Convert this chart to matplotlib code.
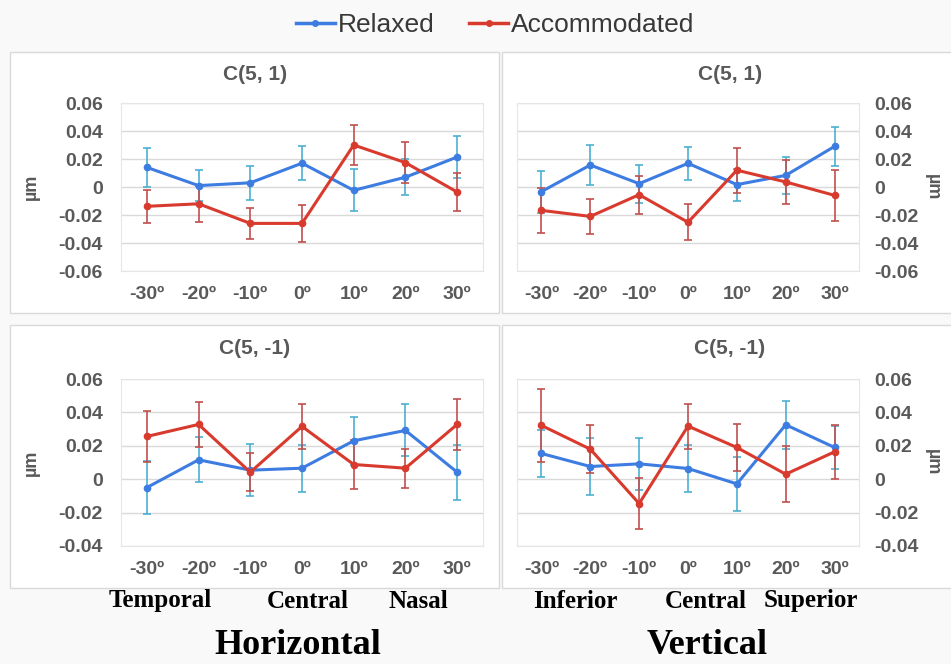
import numpy as np
import matplotlib.pyplot as plt
from matplotlib.patches import Rectangle
from matplotlib.lines import Line2D

plt.rcParams['font.family'] = ['Liberation Sans', 'DejaVu Sans']

# angle categories
angles = ['-30º', '-20º', '-10º', '0º', '10º', '20º', '30º']

# C(5, 1) horizontal
h1_relaxed = [0.014, 0.001, 0.003, 0.017, -0.0024, 0.007, 0.0214]
h1_relaxed_err = [0.014, 0.011, 0.012, 0.012, 0.015, 0.013, 0.015]
h1_accom = [-0.0138, -0.012, -0.026, -0.026, 0.030, 0.0174, -0.0036]
h1_accom_err = [0.012, 0.013, 0.011, 0.013, 0.0145, 0.0147, 0.0134]

# C(5, 1) vertical
v1_relaxed = [-0.0033, 0.0157, 0.0024, 0.0169, 0.0017, 0.0083, 0.029]
v1_relaxed_err = [0.015, 0.0145, 0.0135, 0.012, 0.0115, 0.013, 0.014]
v1_accom = [-0.0167, -0.021, -0.0055, -0.0252, 0.012, 0.0036, -0.006]
v1_accom_err = [0.016, 0.0125, 0.0135, 0.013, 0.016, 0.0155, 0.018]

# C(5, -1) horizontal
h2_relaxed = [-0.005, 0.0116, 0.0054, 0.0066, 0.023, 0.0292, 0.0042]
h2_relaxed_err = [0.016, 0.0134, 0.0154, 0.014, 0.0142, 0.0156, 0.0164]
h2_accom = [0.0256, 0.0328, 0.0042, 0.0316, 0.0088, 0.0066, 0.0328]
h2_accom_err = [0.0155, 0.0135, 0.0114, 0.0135, 0.0145, 0.0117, 0.0152]

# C(5, -1) vertical
v2_relaxed = [0.0154, 0.0076, 0.0092, 0.0064, -0.0028, 0.0326, 0.019]
v2_relaxed_err = [0.014, 0.017, 0.0155, 0.014, 0.016, 0.0144, 0.013]
v2_accom = [0.0322, 0.018, -0.0146, 0.0318, 0.019, 0.003, 0.0164]
v2_accom_err = [0.0218, 0.0142, 0.0155, 0.0135, 0.0142, 0.0168, 0.016]

blue = '#3d7ce0'
blue_err = '#4bb0d2'
red = '#d93a2e'
red_err = '#c0504d'
gray = '#595959'

W, H = 951, 664
fig = plt.figure(figsize=(W / 100, H / 100), dpi=100)
fig.patch.set_facecolor('#f9f9f9')


def px_rect(x0, y0, x1, y1):
    return [x0 / W, 1 - y1 / H, (x1 - x0) / W, (y1 - y0) / H]


# white panel boxes
for (x0, y0, x1, y1) in [(10, 52, 499, 313), (502, 52, 955, 313),
                         (10, 325, 499, 588), (502, 325, 955, 588)]:
    fig.patches.append(Rectangle((x0 / W, 1 - y1 / H), (x1 - x0) / W, (y1 - y0) / H,
                                 transform=fig.transFigure, facecolor='white',
                                 edgecolor='#d9d9d9', linewidth=1, zorder=-5))

panels = [
    (px_rect(121, 103, 483, 271), 'C(5, 1)', h1_relaxed, h1_relaxed_err, h1_accom, h1_accom_err,
     (-0.06, 0.06), 'left', 255, 75),
    (px_rect(517, 103, 859, 271), 'C(5, 1)', v1_relaxed, v1_relaxed_err, v1_accom, v1_accom_err,
     (-0.06, 0.06), 'right', 730, 75),
    (px_rect(121, 379, 483, 546), 'C(5, -1)', h2_relaxed, h2_relaxed_err, h2_accom, h2_accom_err,
     (-0.04, 0.06), 'left', 255, 348),
    (px_rect(517, 379, 859, 546), 'C(5, -1)', v2_relaxed, v2_relaxed_err, v2_accom, v2_accom_err,
     (-0.04, 0.06), 'right', 730, 348),
]

x = np.arange(len(angles))
for rect, title, rel, rel_e, acc, acc_e, ylim, side, tx, ty in panels:
    ax = fig.add_axes(rect)
    ax.set_facecolor('white')
    ax.errorbar(x, rel, yerr=rel_e, fmt='none', ecolor=blue_err, elinewidth=1.2,
                capsize=3, capthick=1.2, zorder=2)
    ax.errorbar(x, acc, yerr=acc_e, fmt='none', ecolor=red_err, elinewidth=1.2,
                capsize=3, capthick=1.2, zorder=2)
    ax.plot(x, rel, color=blue, lw=2.2, marker='o', ms=4.5, zorder=3)
    ax.plot(x, acc, color=red, lw=2.2, marker='o', ms=4.5, zorder=3)
    ax.set_xlim(-0.5, len(angles) - 0.5)
    ax.set_ylim(*ylim)
    if side == 'right':
        ax.yaxis.tick_right()
        ax.yaxis.set_label_position('right')
    ticks = np.round(np.arange(ylim[0], ylim[1] + 0.001, 0.02), 2)
    ax.set_yticks(ticks)
    ax.set_yticklabels(['0' if t == 0 else f'{t:.2f}' for t in ticks], fontweight='bold')
    ax.set_xticks(x)
    ax.set_xticklabels(angles, fontweight='bold')
    ax.grid(axis='y', color='#d9d9d9', lw=1)
    ax.set_axisbelow(True)
    for s in ax.spines.values():
        s.set_color('#e6e6e6')
    ax.tick_params(length=0, labelsize=14, labelcolor=gray)
    ax.tick_params(axis='x', pad=11)
    if side == 'right':
        ax.tick_params(axis='y', pad=11)
        ax.set_ylabel('µm', fontsize=13, fontweight='bold', color=gray, rotation=270)
        ax.yaxis.set_label_coords(1.24, 0.5)
    else:
        ax.tick_params(axis='y', pad=13)
        ax.set_ylabel('µm', fontsize=13, fontweight='bold', color=gray)
        ax.yaxis.set_label_coords(-0.224, 0.5)
    fig.text(tx / W, 1 - ty / H, title, ha='center', va='center', fontsize=15,
             fontweight='bold', color=gray)

# legend
handles = [Line2D([], [], color=blue, lw=2.5, marker='o', ms=4),
           Line2D([], [], color=red, lw=2.5, marker='o', ms=4)]
fig.legend(handles, ['Relaxed', 'Accommodated'], loc='center', ncol=2,
           bbox_to_anchor=(495 / W, 1 - 25 / H), frameon=False, fontsize=19,
           labelcolor='#383838', handlelength=1.5, handletextpad=0.1, columnspacing=1.3)

# direction labels
serif = 'Liberation Serif'
for label, px in [('Temporal', 160), ('Central', 308), ('Nasal', 418),
                  ('Inferior', 575), ('Central', 706), ('Superior', 811)]:
    fig.text(px / W, 1 - 601 / H, label, ha='center', va='center', fontsize=18,
             fontweight='bold', family=serif)
fig.text(298 / W, 1 - 645 / H, 'Horizontal', ha='center', va='center', fontsize=26,
         fontweight='bold', family=serif)
fig.text(707 / W, 1 - 645 / H, 'Vertical', ha='center', va='center', fontsize=26,
         fontweight='bold', family=serif)

fig.savefig('out.png', dpi=100, facecolor=fig.get_facecolor())
